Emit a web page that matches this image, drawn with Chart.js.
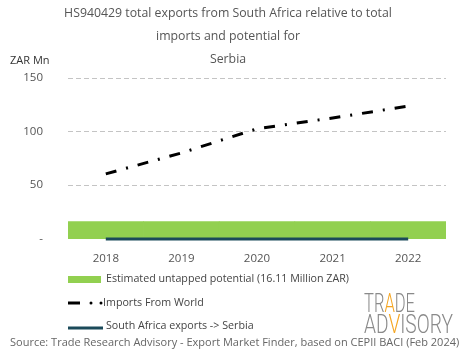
<!DOCTYPE html>
<html>
<head>
<meta charset="utf-8">
<script src="https://cdn.jsdelivr.net/npm/chart.js@4.4.1/dist/chart.umd.min.js"></script>
<style>
  html, body { margin: 0; padding: 0; background: #fff; }
  #wrap { position: relative; width: 465px; height: 359px; overflow: hidden; font-family: "Open Sans", sans-serif; }
  #c { position: absolute; left: 0; top: 0; }
  .ov { position: absolute; white-space: nowrap; color: #555; }
  #unit { left: 10px; top: 52px; font-size: 11px; color: #333; }
  .leg { position: absolute; left: 68px; height: 14px; display: flex; align-items: center; font-size: 10.7px; color: #444; }
  .leg svg { flex: none; }
  #source { left: 10px; top: 334px; font-size: 11px; color: #666; }
  #logo { position: absolute; left: 360px; top: 288px; }
</style>
</head>
<body>
<div id="wrap">
  <canvas id="c" width="465" height="359"></canvas>
  <div class="ov" id="unit">ZAR Mn</div>
  <div class="leg" style="top:271px"><svg width="38" height="12"><rect x="0" y="4" width="33" height="7" fill="#92d050"/></svg><span id="l1"></span></div>
  <div class="leg" style="top:295px"><svg width="35" height="10"><line x1="0" y1="6" x2="12" y2="6" stroke="#000" stroke-width="3"/><circle cx="23" cy="6" r="1.5" fill="#000"/><circle cx="33" cy="6" r="1.5" fill="#000"/></svg><span id="l2"></span></div>
  <div class="leg" style="top:318px"><svg width="38" height="12"><line x1="0" y1="9" x2="35" y2="9" stroke="#1b4a5a" stroke-width="3"/></svg><span id="l3"></span></div>
  <svg id="logo" width="100" height="50">
    <text x="4" y="24" font-family="Roboto, sans-serif" font-weight="300" font-size="25" fill="#8a8a8a" textLength="51" lengthAdjust="spacingAndGlyphs">TR<tspan fill="#f5a623">A</tspan>DE</text>
    <text x="4" y="45" font-family="Roboto, sans-serif" font-weight="300" font-size="25" fill="#8a8a8a" textLength="89" lengthAdjust="spacingAndGlyphs">AD<tspan fill="#f5a623">V</tspan>ISORY</text>
  </svg>
  <div class="ov" id="source">Source: Trade Research Advisory - Export Market Finder, based on CEPII BACI (Feb 2024)</div>
</div>
<script>
const categories = ['2018', '2019', '2020', '2021', '2022'];
const importsFromWorld = [60.5, 80, 102.5, 112.5, 123.5];
const saExportsToSerbia = [0, 0, 0, 0, 0];
const untappedPotential = [16.11, 16.11, 16.11, 16.11, 16.11];
const yTickValues = [0, 50, 100, 150];
const titleLines = ['HS940429 total exports from South Africa relative to total', 'imports and potential for', 'Serbia'];
const legendLabels = ['Estimated untapped potential (16.11 Million ZAR)', 'Imports From World', 'South Africa exports -> Serbia'];

document.getElementById('l1').textContent = legendLabels[0];
document.getElementById('l2').textContent = legendLabels[1];
document.getElementById('l3').textContent = legendLabels[2];

const FONT = '"Open Sans", sans-serif';

// dashed horizontal grid lines at the y ticks (except zero)
const dashedGrid = {
  id: 'dashedGrid',
  beforeDatasetsDraw(chart) {
    const { ctx, chartArea, scales } = chart;
    ctx.save();
    ctx.strokeStyle = '#c4c4c4';
    ctx.lineWidth = 1;
    ctx.setLineDash([5, 3]);
    scales.y.ticks.forEach(t => {
      if (t.value === 0) return;
      const y = Math.round(scales.y.getPixelForValue(t.value)) + 0.5;
      ctx.beginPath();
      ctx.moveTo(chartArea.left, y);
      ctx.lineTo(chartArea.right, y);
      ctx.stroke();
    });
    ctx.restore();
  }
};

new Chart(document.getElementById('c'), {
  data: {
    labels: categories,
    datasets: [
      {
        type: 'line',
        label: legendLabels[2],
        data: saExportsToSerbia,
        borderColor: '#1b4a5a',
        borderWidth: 3,
        pointRadius: 0,
        order: 1,
        clip: 4
      },
      {
        type: 'line',
        label: legendLabels[1],
        data: importsFromWorld,
        borderColor: '#000',
        borderWidth: 3,
        borderDash: [11, 10, 2, 10],
        pointRadius: 0,
        tension: 0,
        order: 2
      },
      {
        type: 'bar',
        label: legendLabels[0],
        data: untappedPotential,
        backgroundColor: '#92d050',
        barPercentage: 1,
        categoryPercentage: 1,
        order: 3
      }
    ]
  },
  plugins: [dashedGrid],
  options: {
    responsive: false,
    animation: false,
    layout: { padding: { left: 10, right: 19, top: 0, bottom: 92 } },
    plugins: {
      legend: { display: false },
      tooltip: { enabled: false },
      title: {
        display: true,
        text: titleLines,
        color: '#555',
        font: { family: FONT, size: 12.3, weight: 'normal', lineHeight: 1.86 },
        padding: { top: 2, bottom: 7 }
      }
    },
    scales: {
      x: {
        offset: true,
        grid: { display: false },
        border: { display: false },
        ticks: { color: '#555', font: { family: FONT, size: 11.5 }, padding: 5 },
        afterFit: s => { s.height = 28; }
      },
      y: {
        min: 0,
        max: 150,
        afterBuildTicks: s => { s.ticks = yTickValues.map(v => ({ value: v })); },
        grid: { display: false },
        border: { display: false },
        ticks: {
          color: '#555',
          font: { family: FONT, size: 11.5 },
          padding: 17,
          callback: v => v === 0 ? '-' : String(v)
        },
        afterFit: s => { s.width = 58; }
      }
    }
  }
});
</script>
</body>
</html>
